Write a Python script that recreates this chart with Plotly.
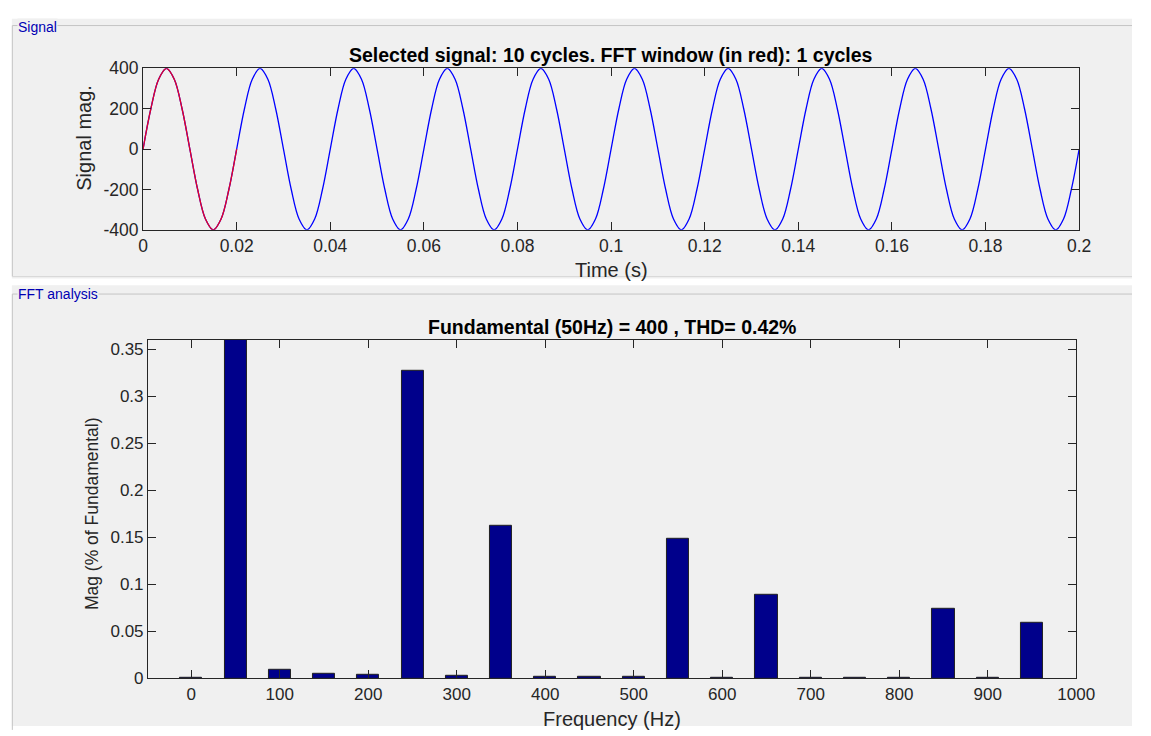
import plotly.graph_objects as go

# ---------------- data ----------------
# one cycle of the 50 Hz signal, sampled every 1/12 cycle (values read from the plot)
signal_cycle = [0, 200, 346, 400, 346, 200, 0, -200, -346, -400, -346, -200]
n_cycles = 10
fft_cycles = 1
period = 0.02
signal_mag = signal_cycle * n_cycles + [0]
time_s = [i * period / len(signal_cycle) for i in range(len(signal_mag))]
window_n = len(signal_cycle) * fft_cycles + 1

signal_ticks = [-400, -200, 0, 200, 400]
signal_ticktext = ["-400", "-200", "0", "200", "400"]

freq_hz = [0, 50, 100, 150, 200, 250, 300, 350, 400, 450, 500,
           550, 600, 650, 700, 750, 800, 850, 900, 950]
mag_pct = [0.0003, 100, 0.009, 0.0049, 0.0034, 0.327, 0.0024, 0.162, 0.0017, 0.0013, 0.0012,
           0.148, 0.001, 0.0888, 0.001, 0.0007, 0.0008, 0.074, 0.0008, 0.0589]

title_top = "Selected signal: 10 cycles. FFT window (in red): 1 cycles"
title_bot = "Fundamental (50Hz) = 400 , THD= 0.42%"

# ---------------- layout helpers ----------------
W, H = 1151, 736
def fx(px):
    return px / W
def fy(py):
    return 1 - py / H

FONT = "Liberation Sans, Arial, Helvetica, sans-serif"
TXT = "#262626"

fig = go.Figure()

fig.add_trace(go.Scatter(x=time_s, y=signal_mag, mode="lines", line=dict(color="#0000ff", width=1.3, shape="spline"),
                         xaxis="x", yaxis="y", showlegend=False, hoverinfo="skip"))
fig.add_trace(go.Scatter(x=time_s[:window_n], y=signal_mag[:window_n], mode="lines",
                         line=dict(color="rgb(228,0,40)", width=1.3, shape="spline"),
                         xaxis="x", yaxis="y", showlegend=False, hoverinfo="skip"))
fig.add_trace(go.Bar(x=freq_hz, y=mag_pct, width=25, marker=dict(color="#00008b", line=dict(color="#202020", width=1)),
                     xaxis="x2", yaxis="y2", showlegend=False))

axis_common = dict(showgrid=False, zeroline=False, showline=True, linecolor=TXT, linewidth=1,
                   mirror="ticks", ticks="inside", ticklen=8, tickcolor=TXT, tickwidth=1)

fig.update_layout(
    autosize=True,
    margin=dict(l=0, r=0, t=0, b=0),
    paper_bgcolor="white", plot_bgcolor="white",
    font=dict(family=FONT, color=TXT),
    bargap=0,
    xaxis=dict(domain=[fx(141), fx(1097)], range=[0, 0.2], dtick=0.02, tick0=0, anchor="y",
               tickfont=dict(size=17.5, color=TXT), **axis_common),
    yaxis=dict(domain=[fy(226), fy(60)], range=[-400, 400], tickvals=signal_ticks, ticktext=signal_ticktext,
               anchor="x", tickfont=dict(size=17.5, color=TXT), **axis_common),
    xaxis2=dict(domain=[fx(146), fx(1094)], range=[-49, 1000], dtick=100, tick0=0, anchor="y2",
                tickfont=dict(size=17, color=TXT), **axis_common),
    yaxis2=dict(domain=[fy(687), fy(339)], range=[0, 0.36], dtick=0.05, anchor="x2",
                tickfont=dict(size=17, color=TXT), **axis_common),
)

shapes = []
# panel backgrounds
shapes.append(dict(type="rect", xref="paper", yref="paper", x0=fx(7), x1=1, y0=fy(276), y1=fy(9),
                   fillcolor="#f0f0f0", line=dict(width=0), layer="below"))
shapes.append(dict(type="rect", xref="paper", yref="paper", x0=fx(7), x1=1, y0=0, y1=fy(283),
                   fillcolor="#f0f0f0", line=dict(width=0), layer="below"))
# group box frames
for y_top, y_bot in [(16, 274), (292, 740)]:
    shapes.append(dict(type="line", xref="paper", yref="paper", x0=fx(7.5), x1=1, y0=fy(y_top), y1=fy(y_top),
                       line=dict(color="#c4c4c4", width=1), layer="below"))
    shapes.append(dict(type="line", xref="paper", yref="paper", x0=fx(7.5), x1=fx(7.5), y0=fy(y_top), y1=fy(y_bot),
                       line=dict(color="#c4c4c4", width=1), layer="below"))
shapes.append(dict(type="line", xref="paper", yref="paper", x0=fx(7.5), x1=1, y0=fy(274), y1=fy(274),
                   line=dict(color="#d8d8d8", width=1), layer="below"))
fig.update_layout(shapes=shapes)

def add_text(text, px, py, size, color=TXT, angle=0, xanchor="center", bg=None):
    d = dict(text=text, x=fx(px), y=fy(py), xref="paper", yref="paper", showarrow=False, textangle=angle,
             font=dict(size=size, color=color, family=FONT), xanchor=xanchor, yanchor="middle")
    if bg:
        d.update(bgcolor=bg, borderpad=0)
    fig.add_annotation(**d)

add_text("<b>" + title_top + "</b>", 619, 46, 19.5, color="black")
add_text("<b>" + title_bot + "</b>", 620, 326, 19.5, color="black")
add_text("Time (s)", 619, 267, 20)
add_text("Signal mag.", 81, 131, 20, angle=-90)
add_text("Frequency (Hz)", 620, 729, 20)
add_text("Mag (% of Fundamental)", 89, 518, 17.5, angle=-90)
add_text("Signal", 12, 17, 14, color="#0000b4", xanchor="left", bg="#f0f0f0")
add_text("FFT analysis", 12, 292, 14, color="#0000b4", xanchor="left", bg="#f0f0f0")

post = ("document.documentElement.style.margin='0';document.documentElement.style.overflow='hidden';"
        "document.body.style.margin='0';document.body.style.overflow='hidden';"
        "window.dispatchEvent(new Event('resize'));")
fig.write_html("out.html", config={"displayModeBar": False, "responsive": True},
               default_width="100vw", default_height="100vh", post_script=post)
